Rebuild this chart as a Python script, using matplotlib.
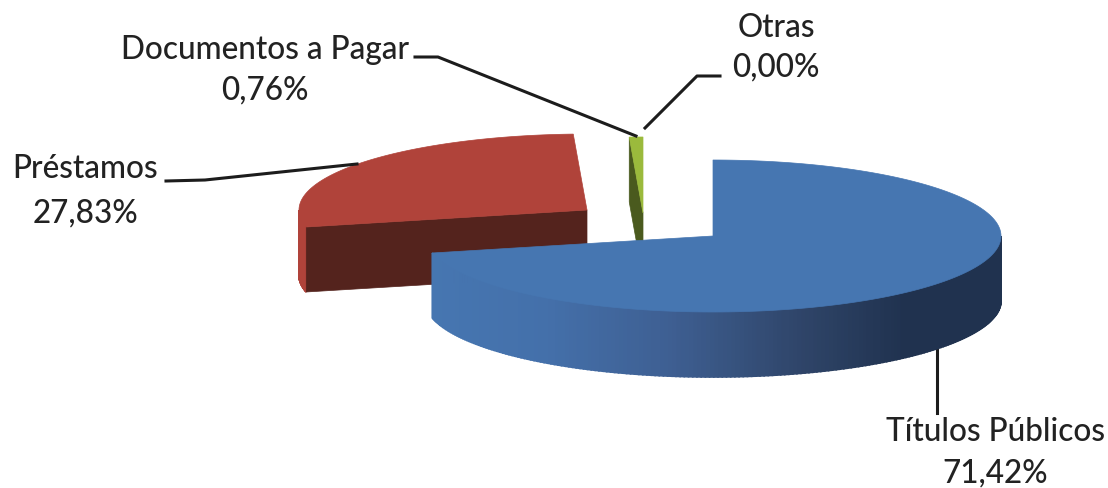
import numpy as np
import matplotlib
matplotlib.use('Agg')
import matplotlib.pyplot as plt
from matplotlib.colors import LinearSegmentedColormap

labels = ['Títulos Públicos', 'Préstamos', 'Documentos a Pagar', 'Otras']
pct_labels = ['71,42%', '27,83%', '0,76%', '0,00%']
values = [71.42, 27.83, 0.76, 0.00]

# pie geometry, in picture pixels
centers = {'Títulos Públicos': (713, 236), 'Préstamos': (587, 210),
           'Documentos a Pagar': (643, 213), 'Otras': (643, 213)}
rx, ry, depth = 288, 76, 65

top_colors = {'Títulos Públicos': '#4676b1', 'Préstamos': '#b0433a',
              'Documentos a Pagar': '#9bba3c', 'Otras': '#7d5fa0'}
face_colors = {'Títulos Públicos': '#20324f', 'Préstamos': '#54231d',
               'Documentos a Pagar': '#4a5a1e', 'Otras': '#3d2f50'}

blue_side = LinearSegmentedColormap.from_list(
    'blue_side', [(0, '#4676b1'), (0.2, '#4470aa'), (0.42, '#3e5f92'),
                  (0.65, '#2f4569'), (0.83, '#20324f'), (1, '#20324f')])

plt.rcParams['font.family'] = ['Lato', 'DejaVu Sans']

fig = plt.figure(figsize=(11.08, 4.88), dpi=100)
ax = fig.add_axes([0, 0, 1, 1])
ax.set_xlim(0, 1108)
ax.set_ylim(488, 0)
ax.axis('off')


def rim(cx, cy, a):
    # angle a in radians, clockwise from 12 o'clock
    return cx + rx * np.sin(a), cy - ry * np.cos(a)


def draw_slice(name, a0, a1, z):
    cx, cy = centers[name]
    top = top_colors[name]
    face = face_colors[name]
    # outer side, only the front half of the ellipse shows
    lo, hi = max(a0, np.pi / 2), min(a1, 3 * np.pi / 2)
    if hi > lo:
        steps = np.linspace(lo, hi, 200)
        for s0, s1 in zip(steps[:-1], steps[1:]):
            xa, ya = rim(cx, cy, s0)
            xb, yb = rim(cx, cy, s1)
            if name == 'Títulos Públicos':
                c = blue_side(1 - (1001 - (xa + xb) / 2) / 571)
            else:
                c = top
            ax.fill([xa, xb, xb, xa], [ya, yb, yb + depth, ya + depth],
                    color=c, lw=1.2, zorder=z)
    # flat cut face at the start of the slice, it faces the viewer
    if name != 'Títulos Públicos':
        x0, y0 = rim(cx, cy, a0)
        ax.fill([x0, cx, cx, x0], [y0, cy, cy + depth, y0 + depth],
                color=face, lw=0.5, zorder=z + 0.2)
    # top surface
    t = np.linspace(a0, a1, 200)
    xs, ys = rim(cx, cy, t)
    ax.fill(np.r_[cx, xs], np.r_[cy, ys], color=top, lw=0.5, zorder=z + 0.5)


start = 0.0
total = sum(values)
order_z = {'Documentos a Pagar': 1, 'Otras': 1, 'Préstamos': 2, 'Títulos Públicos': 3}
for name, v in zip(labels, values):
    end = start + 2 * np.pi * v / total
    if v > 0:
        draw_slice(name, start, end, order_z[name])
    start = end

# leader lines
line_c = '#1c1c1c'
ax.plot([415, 438, 636], [57, 57, 136], color=line_c, lw=2.2, zorder=5)
ax.plot([720, 697, 645], [76, 76, 128], color=line_c, lw=2.2, zorder=5)
ax.plot([166, 205, 357], [181, 180, 164], color=line_c, lw=2.2, zorder=5)
ax.plot([937, 937], [349, 413], color=line_c, lw=2.2, zorder=2.5)

# labels
text_pos = {'Títulos Públicos': (995, 432, 473), 'Préstamos': (85, 169, 213),
            'Documentos a Pagar': (265, 50, 90), 'Otras': (776, 28, 67)}
for name, pct in zip(labels, pct_labels):
    x, y0, y1 = text_pos[name]
    ax.text(x, y0, name, ha='center', va='center', fontsize=22.7,
            fontweight='medium', color='#222222')
    ax.text(x, y1, pct, ha='center', va='center', fontsize=22.7,
            fontweight='medium', color='#222222')

fig.savefig('out.png', dpi=100, facecolor='white')
